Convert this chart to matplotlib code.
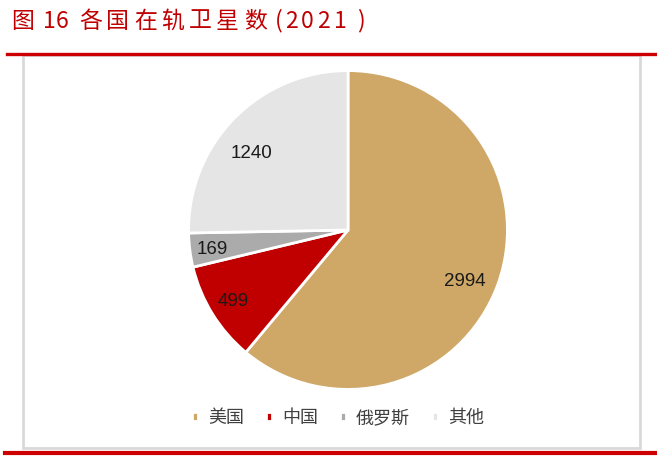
import numpy as np
import matplotlib.pyplot as plt
from matplotlib.patches import Rectangle
from matplotlib.lines import Line2D

plt.rcParams['font.family'] = ['Noto Sans CJK SC', 'DejaVu Sans']

countries = ["美国", "中国", "俄罗斯", "其他"]
satellites = [2994, 499, 169, 1240]
colors = ["#CFA767", "#C00000", "#ABABAB", "#E5E5E5"]

title_chars = list("图16各国在轨卫星数(2021)")
# centre x (px) of each title character, copying the wide letter spacing
title_x = [23, 49, 62, 91, 117, 146, 173, 200, 227, 256, 279, 291, 307, 323, 340, 361]

# (distance, angle tweak in degrees) for the value labels
label_pos = [(0.80, -4), (0.85, 0), (0.86, 1), (0.77, 6)]

W, H = 657, 462
fig = plt.figure(figsize=(W / 100, H / 100), dpi=100)

# frame box around the chart
fig.patches.append(Rectangle((23 / W, 1 - 448 / H), 617 / W, 393 / H,
                             transform=fig.transFigure, fill=False,
                             edgecolor="#D9D9D9", linewidth=2))

# red rules top and bottom
fig.add_artist(Line2D([7 / W, 1], [1 - 53.5 / H] * 2, color="#CC0000",
                      linewidth=2.4, transform=fig.transFigure))
fig.add_artist(Line2D([5 / W, 1], [1 - 453 / H] * 2, color="#CC0000",
                      linewidth=3, transform=fig.transFigure))

for ch, x in zip(title_chars, title_x):
    fig.text(x / W, 1 - 21 / H, ch, color="#C00000", fontsize=16.5,
             va="center", ha="center")

ax = fig.add_axes([187 / W, 1 - 391 / H, 322 / W, 322 / H])
wedges, texts = ax.pie(satellites, colors=colors, startangle=90, counterclock=False,
                       wedgeprops=dict(edgecolor="white", linewidth=2))
ax.set_xlim(-1.01, 1.01)
ax.set_ylim(-1.01, 1.01)
ax.set_aspect("equal")

for w, v, (d, tweak) in zip(wedges, satellites, label_pos):
    ang = np.deg2rad((w.theta1 + w.theta2) / 2 + tweak)
    ax.text(d * np.cos(ang), d * np.sin(ang), str(v), ha="center", va="center",
            fontsize=13.5, color="#1a1a1a", family=["Liberation Sans", "DejaVu Sans"])

fig.legend(wedges, countries, loc="center", bbox_to_anchor=(338 / W, 1 - 418 / H),
           ncol=4, frameon=False, fontsize=13, handlelength=0.35, handleheight=0.35,
           handletextpad=0.55, columnspacing=1.2, labelcolor="#404040")

fig.savefig("out.png", dpi=100)
